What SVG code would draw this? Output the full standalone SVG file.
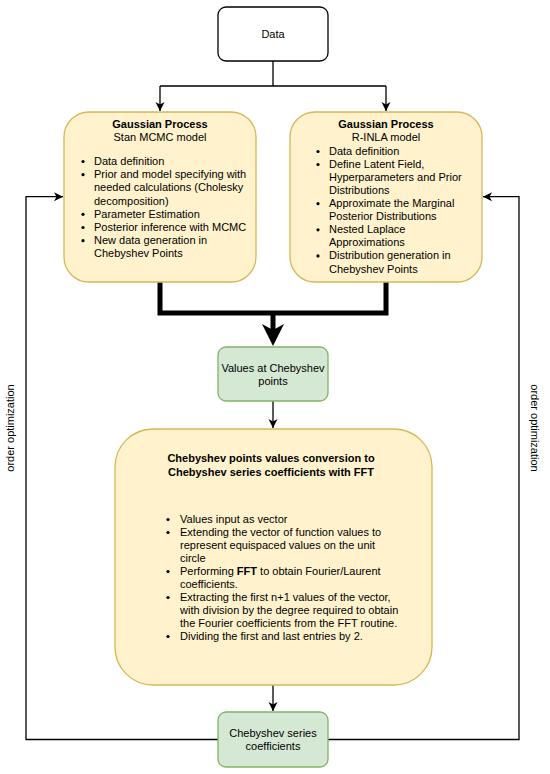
<svg xmlns="http://www.w3.org/2000/svg" width="550" height="774" viewBox="0 0 550 774">
<defs>
<style>
text{font-family:"Liberation Sans",Arial,sans-serif;font-size:11px;fill:#000}
.b{font-weight:bold}
.c{text-anchor:middle}
.y{fill:#fff2cc;stroke:#d6b656;stroke-width:1.3}
.g{fill:#d5e8d4;stroke:#82b366;stroke-width:1.3}
.w{fill:#fff;stroke:#000;stroke-width:1.3}
.ln{fill:none;stroke:#000;stroke-width:1.3}
.thick{fill:none;stroke:#000;stroke-width:5}
</style>
<marker id="ah" markerUnits="userSpaceOnUse" markerWidth="12" markerHeight="12" viewBox="0 0 12 12" refX="10" refY="6" orient="auto">
<path d="M1,1.5 L10,6 L1,10.5 L3.5,6 Z" fill="#000"/>
</marker>
</defs>
<rect width="550" height="774" fill="#fff"/>
<g id="connectors">
<path class="ln" d="M273,61 V86 M160,86 H386"/>
<path class="ln" d="M160,86 V111" marker-end="url(#ah)"/>
<path class="ln" d="M386,86 V111" marker-end="url(#ah)"/>
<path class="thick" d="M160,282 V313 H386 V282"/>
<path class="thick" d="M273,313 V330"/>
<path d="M273,346 L262,324 L273,330 L284,324 Z" fill="#000"/>
<path class="ln" d="M273,401 V428" marker-end="url(#ah)"/>
<path class="ln" d="M273,685 V711" marker-end="url(#ah)"/>
<path class="ln" d="M218,739.5 H26 V196.7 H63" marker-end="url(#ah)"/>
<path class="ln" d="M328,739.5 H519 V196.7 H483" marker-end="url(#ah)"/>
<text class="c" transform="translate(14,428) rotate(-90)">order optimization</text>
<text class="c" transform="translate(531,428) rotate(90)">order optimization</text>
</g>
<g id="data">
<rect class="w" x="218" y="7" width="110" height="54" rx="8"/>
<text class="c" x="273" y="38">Data</text>
</g>
<g id="stan">
<rect class="y" x="64" y="112" width="192" height="170" rx="25"/>
<text class="c b" x="160" y="128">Gaussian Process</text>
<text class="c" x="160" y="141">Stan MCMC model</text>
<g>
<circle cx="83" cy="161.5" r="1.6"/><circle cx="83" cy="174.7" r="1.6"/><circle cx="83" cy="214.3" r="1.6"/><circle cx="83" cy="227.5" r="1.6"/><circle cx="83" cy="240.7" r="1.6"/>
</g>
<text x="94" y="165">Data definition</text>
<text x="94" y="178.2">Prior and model specifying with</text>
<text x="94" y="191.4">needed calculations (Cholesky</text>
<text x="94" y="204.6">decomposition)</text>
<text x="94" y="217.8">Parameter Estimation</text>
<text x="94" y="231">Posterior inference with MCMC</text>
<text x="94" y="244.2">New data generation in</text>
<text x="94" y="257.4">Chebyshev Points</text>
</g>
<g id="inla">
<rect class="y" x="290" y="112" width="192" height="170" rx="25"/>
<text class="c b" x="386" y="127.5">Gaussian Process</text>
<text class="c" x="386" y="141.3">R-INLA model</text>
<g>
<circle cx="318" cy="151.5" r="1.6"/><circle cx="318" cy="164.5" r="1.6"/><circle cx="318" cy="203.7" r="1.6"/><circle cx="318" cy="229.8" r="1.6"/><circle cx="318" cy="255.9" r="1.6"/>
</g>
<text x="329" y="155">Data definition</text>
<text x="329" y="168">Define Latent Field,</text>
<text x="329" y="181">Hyperparameters and Prior</text>
<text x="329" y="194.2">Distributions</text>
<text x="329" y="207.2">Approximate the Marginal</text>
<text x="329" y="220.3">Posterior Distributions</text>
<text x="329" y="233.3">Nested Laplace</text>
<text x="329" y="246.4">Approximations</text>
<text x="329" y="259.4">Distribution generation in</text>
<text x="329" y="272.5">Chebyshev Points</text>
</g>
<g id="values">
<rect class="g" x="218" y="347" width="110" height="54" rx="8"/>
<text class="c" x="273" y="372">Values at Chebyshev</text>
<text class="c" x="273" y="385">points</text>
</g>
<g id="conversion">
<rect class="y" x="115" y="429" width="317" height="256" rx="38"/>
<text class="c b" x="271" y="461.5">Chebyshev points values conversion to</text>
<text class="c b" x="271" y="476">Chebyshev series coefficients with FFT</text>
<g>
<circle cx="168" cy="519.5" r="1.6"/><circle cx="168" cy="532.5" r="1.6"/><circle cx="168" cy="571.5" r="1.6"/><circle cx="168" cy="597.5" r="1.6"/><circle cx="168" cy="636.5" r="1.6"/>
</g>
<text x="180" y="523">Values input as vector</text>
<text x="180" y="536">Extending the vector of function values to</text>
<text x="180" y="549">represent equispaced values on the unit</text>
<text x="180" y="562">circle</text>
<text x="180" y="575">Performing <tspan class="b">FFT</tspan> to obtain Fourier/Laurent</text>
<text x="180" y="588">coefficients.</text>
<text x="180" y="601">Extracting the first n+1 values of the vector,</text>
<text x="180" y="614">with division by the degree required to obtain</text>
<text x="180" y="627">the Fourier coefficients from the FFT routine.</text>
<text x="180" y="640">Dividing the first and last entries by 2.</text>
</g>
<g id="coefficients">
<rect class="g" x="218" y="712" width="110" height="55" rx="8"/>
<text class="c" x="273" y="737">Chebyshev series</text>
<text class="c" x="273" y="750">coefficients</text>
</g>
</svg>
